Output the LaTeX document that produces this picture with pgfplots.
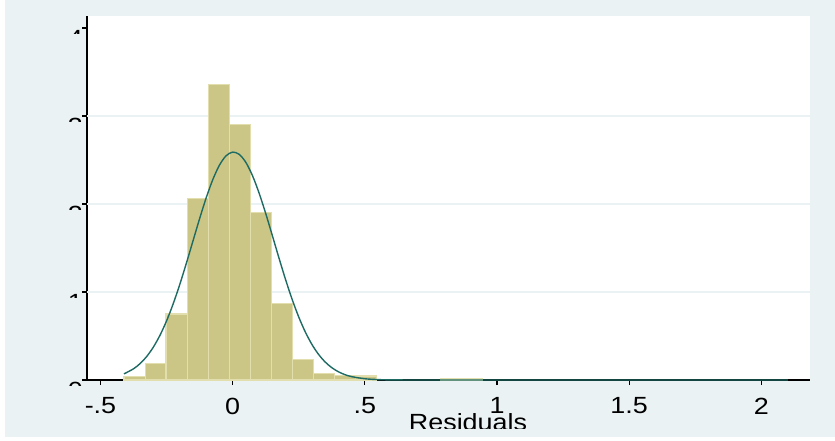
\documentclass[border=0pt]{standalone}
\usepackage{pgfplots}
\pgfplotsset{compat=1.18}
\usepackage{fontspec}
\setmainfont{Liberation Sans}[FakeStretch=1.15]
\definecolor{bgc}{HTML}{EAF2F3}
\definecolor{barfill}{HTML}{CCC686}
\definecolor{baredge}{HTML}{E2DEAE}
\definecolor{curvec}{HTML}{1E6B64}
\begin{document}
\begin{tikzpicture}
\path[use as bounding box] (0,0) rectangle (835bp,-441bp);
\fill[white] (0,0) rectangle (835bp,-441bp);
\fill[bgc] (5bp,0) rectangle (835bp,-437bp);
\begin{axis}[
  at={(87bp,-380bp)}, anchor=south west,
  scale only axis, width=723bp, height=364bp,
  xmin=-0.551, xmax=2.184, ymin=0, ymax=4.136,
  axis x line*=bottom, axis y line*=left,
  axis line style={line width=1.3bp, black, -},
  tick align=outside, major tick length=5bp,
  tick style={line width=1.2bp, black},
  xtick={-0.5,0,0.5,1,1.5,2},
  xticklabels={-.5,0,.5,1,1.5,2},
  ytick={0,1,2,3,4}, yticklabels={},
  extra y ticks={1,2,3}, extra y tick labels={},
  extra y tick style={grid=major, major tick length=0pt},
  grid style={bgc, line width=1.5bp},
  axis background/.style={fill=white},
  xticklabel style={font=\fontsize{23.5}{23.5}\selectfont, inner sep=0pt, anchor=north, yshift=-12.5bp},
  minor tick num=0,
]
\addplot[ybar interval, fill=barfill, draw=baredge, line width=1.2bp] coordinates {
(-0.411,0.038) (-0.331,0.19) (-0.252,0.75) (-0.172,2.06) (-0.092,3.36) (-0.013,2.90)
(0.067,1.905) (0.147,0.87) (0.227,0.235) (0.306,0.076) (0.386,0.048) (0.466,0.045) (0.545,0)
};
\addplot[ybar interval, fill=barfill, draw=baredge, line width=1.2bp] coordinates {
(0.785,0.016) (0.864,0.016) (0.944,0)
};
\addplot[curvec, line width=1.4bp, smooth, no marks] coordinates {
(-0.411,0.0698) (-0.375,0.1274) (-0.35,0.1872) (-0.325,0.2680) (-0.3,0.3738)
(-0.275,0.5078) (-0.25,0.6718) (-0.225,0.8657) (-0.2,1.0864) (-0.175,1.3280)
(-0.15,1.5811) (-0.125,1.8335) (-0.1,2.0709) (-0.075,2.2782) (-0.05,2.4411)
(-0.025,2.5475) (0,2.5895) (0.025,2.5637) (0.05,2.4722) (0.075,2.3219)
(0.1,2.1240) (0.125,1.8924) (0.15,1.6423) (0.175,1.3882) (0.2,1.1428)
(0.225,0.9163) (0.25,0.7156) (0.275,0.5444) (0.3,0.4033) (0.325,0.2910)
(0.35,0.2045) (0.375,0.1401) (0.4,0.0934) (0.425,0.0606) (0.45,0.0384)
(0.5,0.0142) (0.55,0.0047) (0.6,0.0014) (0.7,0.0001) (0.8,0) (1.2,0) (1.6,0) (2.1,0)
};
\end{axis}
\begin{scope}[x=1bp,y=-1bp]
\foreach \t/\l in {380/0,292/1,204/2,116/3,28/4}{
  \begin{scope}
  \clip (55,\t) rectangle (85.5,\t+5.5);
  \node[anchor=north east, inner sep=0pt, font=\fontsize{23.5}{23.5}\selectfont] at (83,\t+2) {\l};
  \end{scope}
}
\begin{scope}
\clip (300,395) rectangle (650,428.5);
\node[anchor=base, inner sep=0pt, font=\fontsize{23.5}{23.5}\selectfont] at (468,430.5) {Residuals};
\end{scope}
\end{scope}
\end{tikzpicture}
\end{document}
